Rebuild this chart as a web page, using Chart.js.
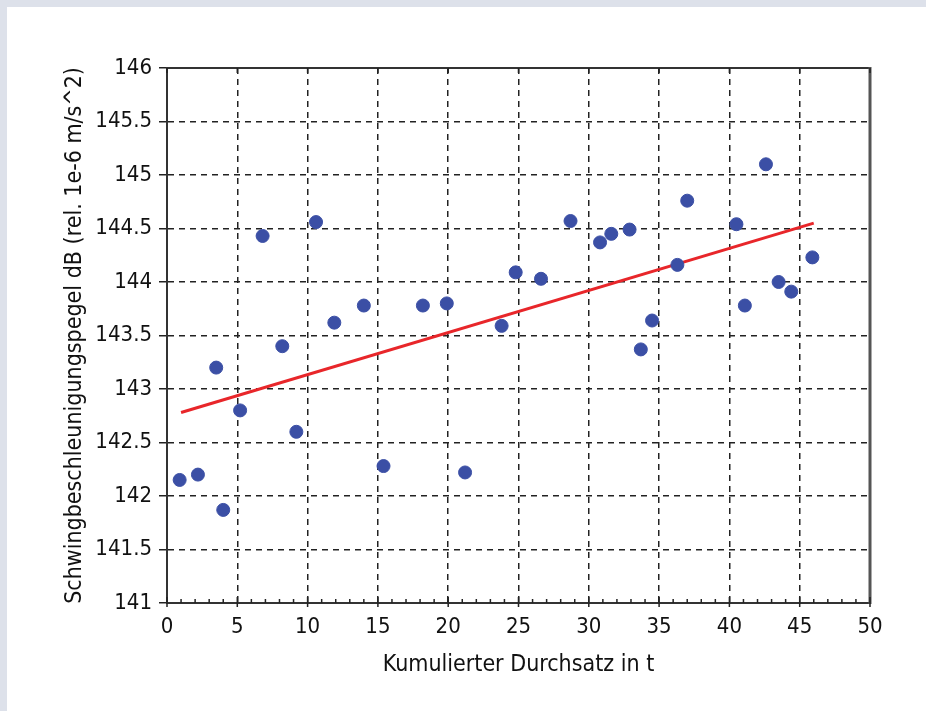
<!DOCTYPE html>
<html>
<head>
<meta charset="utf-8">
<script src="https://cdn.jsdelivr.net/npm/chart.js@4.4.1/dist/chart.umd.min.js"></script>
<style>
  html, body { margin: 0; padding: 0; background: #dde1ea; }
  #wrap { position: absolute; left: 7px; top: 7px; width: 919px; height: 704px; background: #fff; }
</style>
</head>
<body>
<div id="wrap"><canvas id="myChart" width="919" height="704"></canvas></div>
<script>
// measured points (Durchsatz in t, Pegel in dB)
const durchsatz = [0.9, 2.2, 3.5, 4.0, 5.2, 6.8, 8.2, 9.2, 10.6, 11.9, 14.0, 15.4, 18.2, 19.9, 21.2, 23.8,
  24.8, 26.6, 28.7, 30.8, 31.6, 32.9, 33.7, 34.5, 36.3, 37.0, 40.5, 41.1, 42.6, 43.5, 44.4, 45.9];
const pegel = [142.15, 142.2, 143.2, 141.87, 142.8, 144.43, 143.4, 142.6, 144.56, 143.62, 143.78, 142.28, 143.78, 143.8, 142.22, 143.59,
  144.09, 144.03, 144.57, 144.37, 144.45, 144.49, 143.37, 143.64, 144.16, 144.76, 144.54, 143.78, 145.1, 144.0, 143.91, 144.23];

// regression line end points
const trendX = [1.0, 46.0];
const trendY = [142.78, 144.55];

const xTicks = [0, 5, 10, 15, 20, 25, 30, 35, 40, 45, 50];
const yTicks = [141, 141.5, 142, 142.5, 143, 143.5, 144, 144.5, 145, 145.5, 146];

const condensed = "'DejaVu Sans Condensed', sans-serif";

// frame + minor ticks
const framePlugin = {
  id: 'frame',
  afterDraw(chart) {
    const ctx = chart.ctx, a = chart.chartArea;
    const xs = chart.scales.x;
    ctx.save();
    ctx.strokeStyle = '#333';
    ctx.lineWidth = 2;
    ctx.beginPath();
    ctx.moveTo(a.left, a.top); ctx.lineTo(a.right, a.top);
    ctx.stroke();
    ctx.strokeStyle = '#555';
    ctx.lineWidth = 3;
    ctx.beginPath();
    ctx.moveTo(a.right, a.top - 1); ctx.lineTo(a.right, a.bottom + 1);
    ctx.stroke();
    ctx.strokeStyle = '#222';
    ctx.lineWidth = 1.5;
    for (let v = 0; v <= 50; v++) {
      const px = xs.getPixelForValue(v);
      ctx.beginPath();
      if (v % 5 === 0) {
        ctx.moveTo(px, a.top); ctx.lineTo(px, a.top + 5);
        ctx.moveTo(px, a.bottom + 4); ctx.lineTo(px, a.bottom - 6);
      } else {
        ctx.moveTo(px, a.bottom); ctx.lineTo(px, a.bottom - 4);
      }
      ctx.stroke();
    }
    ctx.restore();
  }
};

new Chart(document.getElementById('myChart'), {
  type: 'scatter',
  data: {
    datasets: [
      {
        label: 'Regression',
        type: 'line',
        data: trendX.map((x, i) => ({ x: x, y: trendY[i] })),
        borderColor: '#e8262a',
        borderWidth: 3,
        pointRadius: 0,
        fill: false,
        order: 2
      },
      {
        label: 'Messwerte',
        data: durchsatz.map((x, i) => ({ x: x, y: pegel[i] })),
        backgroundColor: '#3b4fa5',
        borderColor: '#3b4fa5',
        pointRadius: 6.5,
        pointHoverRadius: 6.5,
        order: 1
      }
    ]
  },
  options: {
    responsive: false,
    animation: false,
    layout: { padding: { left: 54, top: 61, right: 56, bottom: 24 } },
    plugins: { legend: { display: false }, tooltip: { enabled: false } },
    scales: {
      x: {
        type: 'linear',
        min: 0, max: 50,
        afterBuildTicks(s) { s.ticks = xTicks.map(v => ({ value: v })); },
        ticks: { color: '#111', font: { family: condensed, size: 22 }, padding: 11, maxRotation: 0,
          callback: v => String(v) },
        grid: { color: '#222', lineWidth: 1.5, drawTicks: false, tickBorderDash: [] },
        border: { color: '#333', width: 2, dash: [6, 5] },
        title: {
          display: true, text: 'Kumulierter Durchsatz in t', color: '#111',
          font: { family: condensed, size: 23 },
          padding: { top: 0, bottom: 8 }
        }
      },
      y: {
        type: 'linear',
        min: 141, max: 146,
        afterBuildTicks(s) { s.ticks = yTicks.map(v => ({ value: v })); },
        afterFit(s) { s.width = 106; },
        ticks: { color: '#111', font: { family: condensed, size: 22 }, padding: 7,
          callback: v => String(v) },
        grid: { color: '#222', lineWidth: 1.5, tickLength: 8, tickColor: '#222', tickWidth: 1.5, tickBorderDash: [] },
        border: { color: '#333', width: 2, dash: [6, 5] },
        title: {
          display: true, text: 'Schwingbeschleunigungspegel dB (rel. 1e-6 m/s^2)', color: '#111',
          font: { family: condensed, size: 23 },
          padding: 0
        }
      }
    }
  },
  plugins: [framePlugin]
});
</script>
</body>
</html>
